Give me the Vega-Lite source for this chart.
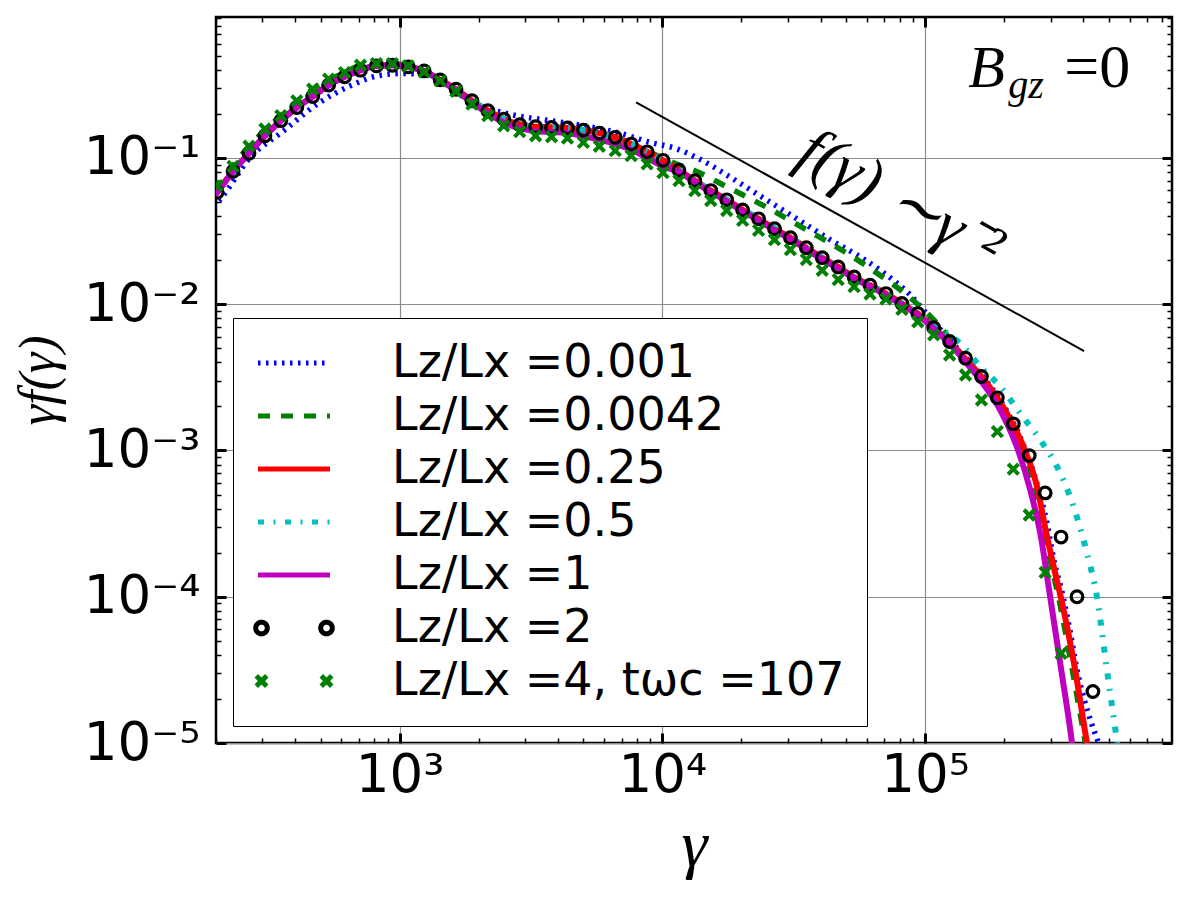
{
  "width": 956,
  "height": 726,
  "autosize": {"type": "none"},
  "padding": {"left": 216, "top": 17, "right": 28, "bottom": 157},
  "background": "white",
  "config": {
    "view": {"stroke": "black", "strokeWidth": 2.5},
    "axis": {"domain": false}
  },
  "datasets": {
    "pl": [
      {"gamma": 7943, "gf": 0.2399},
      {"gamma": 402700, "gf": 0.004786}
    ],
    "curves": [
      {"ratio": "0.001", "gamma": 195, "gf": 0.04677},
      {"ratio": "0.001", "gamma": 205.1, "gf": 0.05117},
      {"ratio": "0.001", "gamma": 270.4, "gf": 0.1012},
      {"ratio": "0.001", "gamma": 362.2, "gf": 0.1535},
      {"ratio": "0.001", "gamma": 485.3, "gf": 0.2333},
      {"ratio": "0.001", "gamma": 648.6, "gf": 0.3112},
      {"ratio": "0.001", "gamma": 820.4, "gf": 0.3639},
      {"ratio": "0.001", "gamma": 1007, "gf": 0.3776},
      {"ratio": "0.001", "gamma": 1233, "gf": 0.3741},
      {"ratio": "0.001", "gamma": 1514, "gf": 0.3199},
      {"ratio": "0.001", "gamma": 1803, "gf": 0.2523},
      {"ratio": "0.001", "gamma": 2213, "gf": 0.2158},
      {"ratio": "0.001", "gamma": 2793, "gf": 0.1945},
      {"ratio": "0.001", "gamma": 3741, "gf": 0.1799},
      {"ratio": "0.001", "gamma": 5012, "gf": 0.166},
      {"ratio": "0.001", "gamma": 6699, "gf": 0.1496},
      {"ratio": "0.001", "gamma": 8974, "gf": 0.1279},
      {"ratio": "0.001", "gamma": 11170, "gf": 0.1164},
      {"ratio": "0.001", "gamma": 13900, "gf": 0.09795},
      {"ratio": "0.001", "gamma": 17580, "gf": 0.07656},
      {"ratio": "0.001", "gamma": 22180, "gf": 0.05888},
      {"ratio": "0.001", "gamma": 28050, "gf": 0.04529},
      {"ratio": "0.001", "gamma": 35400, "gf": 0.03483},
      {"ratio": "0.001", "gamma": 44770, "gf": 0.02679},
      {"ratio": "0.001", "gamma": 56490, "gf": 0.02113},
      {"ratio": "0.001", "gamma": 68870, "gf": 0.0166},
      {"ratio": "0.001", "gamma": 86700, "gf": 0.01183},
      {"ratio": "0.001", "gamma": 107600, "gf": 0.007586},
      {"ratio": "0.001", "gamma": 140000, "gf": 0.004467},
      {"ratio": "0.001", "gamma": 171800, "gf": 0.002951},
      {"ratio": "0.001", "gamma": 204600, "gf": 0.001862},
      {"ratio": "0.001", "gamma": 236600, "gf": 0.001096},
      {"ratio": "0.001", "gamma": 266700, "gf": 0.0005888},
      {"ratio": "0.001", "gamma": 291100, "gf": 0.0003162},
      {"ratio": "0.001", "gamma": 309000, "gf": 0.0001778},
      {"ratio": "0.001", "gamma": 335000, "gf": 0.0001},
      {"ratio": "0.001", "gamma": 357300, "gf": 0.00005623},
      {"ratio": "0.001", "gamma": 378400, "gf": 0.00003162},
      {"ratio": "0.001", "gamma": 402700, "gf": 0.00001995},
      {"ratio": "0.001", "gamma": 425600, "gf": 0.00001436},
      {"ratio": "0.001", "gamma": 457100, "gf": 0.00001},
      {"ratio": "0.001", "gamma": 478600, "gf": 0.000007943},

      {"ratio": "0.0042", "gamma": 195, "gf": 0.05998},
      {"ratio": "0.0042", "gamma": 202.1, "gf": 0.06471},
      {"ratio": "0.0042", "gamma": 267.1, "gf": 0.1202},
      {"ratio": "0.0042", "gamma": 353.1, "gf": 0.1945},
      {"ratio": "0.0042", "gamma": 466.8, "gf": 0.2951},
      {"ratio": "0.0042", "gamma": 617.1, "gf": 0.3837},
      {"ratio": "0.0042", "gamma": 709.5, "gf": 0.4305},
      {"ratio": "0.0042", "gamma": 815.8, "gf": 0.4416},
      {"ratio": "0.0042", "gamma": 937.9, "gf": 0.4416},
      {"ratio": "0.0042", "gamma": 1078.2, "gf": 0.4266},
      {"ratio": "0.0042", "gamma": 1425.4, "gf": 0.342},
      {"ratio": "0.0042", "gamma": 1884.3, "gf": 0.246},
      {"ratio": "0.0042", "gamma": 2490.9, "gf": 0.1845},
      {"ratio": "0.0042", "gamma": 3292.8, "gf": 0.1637},
      {"ratio": "0.0042", "gamma": 4352.8, "gf": 0.1603},
      {"ratio": "0.0042", "gamma": 5754.1, "gf": 0.1479},
      {"ratio": "0.0042", "gamma": 7606.5, "gf": 0.1245},
      {"ratio": "0.0042", "gamma": 10000, "gf": 0.1},
      {"ratio": "0.0042", "gamma": 11970, "gf": 0.0873},
      {"ratio": "0.0042", "gamma": 13240, "gf": 0.08204},
      {"ratio": "0.0042", "gamma": 17220, "gf": 0.06471},
      {"ratio": "0.0042", "gamma": 25590, "gf": 0.04487},
      {"ratio": "0.0042", "gamma": 35650, "gf": 0.03199},
      {"ratio": "0.0042", "gamma": 49550, "gf": 0.02275},
      {"ratio": "0.0042", "gamma": 68870, "gf": 0.01535},
      {"ratio": "0.0042", "gamma": 83950, "gf": 0.01183},
      {"ratio": "0.0042", "gamma": 99080, "gf": 0.009099},
      {"ratio": "0.0042", "gamma": 112200, "gf": 0.007244},
      {"ratio": "0.0042", "gamma": 140000, "gf": 0.004365},
      {"ratio": "0.0042", "gamma": 171800, "gf": 0.002818},
      {"ratio": "0.0042", "gamma": 204600, "gf": 0.001738},
      {"ratio": "0.0042", "gamma": 236600, "gf": 0.001023},
      {"ratio": "0.0042", "gamma": 261800, "gf": 0.0005495},
      {"ratio": "0.0042", "gamma": 283800, "gf": 0.0002729},
      {"ratio": "0.0042", "gamma": 303400, "gf": 0.0001585},
      {"ratio": "0.0042", "gamma": 325100, "gf": 0.0000912},
      {"ratio": "0.0042", "gamma": 363100, "gf": 0.00003162},
      {"ratio": "0.0042", "gamma": 407400, "gf": 0.00001},
      {"ratio": "0.0042", "gamma": 418800, "gf": 0.000007586},

      {"ratio": "0.25", "gamma": 195, "gf": 0.0537},
      {"ratio": "0.25", "gamma": 202.1, "gf": 0.05834},
      {"ratio": "0.25", "gamma": 232.3, "gf": 0.0811},
      {"ratio": "0.25", "gamma": 267.1, "gf": 0.1076},
      {"ratio": "0.25", "gamma": 307.1, "gf": 0.1419},
      {"ratio": "0.25", "gamma": 353.1, "gf": 0.1799},
      {"ratio": "0.25", "gamma": 406, "gf": 0.2213},
      {"ratio": "0.25", "gamma": 466.8, "gf": 0.263},
      {"ratio": "0.25", "gamma": 536.7, "gf": 0.3148},
      {"ratio": "0.25", "gamma": 617.1, "gf": 0.3589},
      {"ratio": "0.25", "gamma": 709.5, "gf": 0.3981},
      {"ratio": "0.25", "gamma": 815.8, "gf": 0.4266},
      {"ratio": "0.25", "gamma": 937.9, "gf": 0.4305},
      {"ratio": "0.25", "gamma": 1078.2, "gf": 0.4198},
      {"ratio": "0.25", "gamma": 1239.8, "gf": 0.3936},
      {"ratio": "0.25", "gamma": 1425.4, "gf": 0.342},
      {"ratio": "0.25", "gamma": 1638.9, "gf": 0.2951},
      {"ratio": "0.25", "gamma": 1884.3, "gf": 0.246},
      {"ratio": "0.25", "gamma": 2166.5, "gf": 0.2104},
      {"ratio": "0.25", "gamma": 2490.9, "gf": 0.1845},
      {"ratio": "0.25", "gamma": 2864, "gf": 0.1687},
      {"ratio": "0.25", "gamma": 3292.8, "gf": 0.1637},
      {"ratio": "0.25", "gamma": 3785.9, "gf": 0.1618},
      {"ratio": "0.25", "gamma": 4352.8, "gf": 0.1603},
      {"ratio": "0.25", "gamma": 5004.7, "gf": 0.1552},
      {"ratio": "0.25", "gamma": 5754.1, "gf": 0.1479},
      {"ratio": "0.25", "gamma": 6615.8, "gf": 0.1384},
      {"ratio": "0.25", "gamma": 7606.5, "gf": 0.1245},
      {"ratio": "0.25", "gamma": 8745.6, "gf": 0.1102},
      {"ratio": "0.25", "gamma": 10055, "gf": 0.09638},
      {"ratio": "0.25", "gamma": 11561, "gf": 0.08241},
      {"ratio": "0.25", "gamma": 13292, "gf": 0.06998},
      {"ratio": "0.25", "gamma": 15283, "gf": 0.05984},
      {"ratio": "0.25", "gamma": 17571, "gf": 0.05176},
      {"ratio": "0.25", "gamma": 20203, "gf": 0.04416},
      {"ratio": "0.25", "gamma": 23228, "gf": 0.03837},
      {"ratio": "0.25", "gamma": 26707, "gf": 0.03281},
      {"ratio": "0.25", "gamma": 30706, "gf": 0.02851},
      {"ratio": "0.25", "gamma": 35304, "gf": 0.02432},
      {"ratio": "0.25", "gamma": 40591, "gf": 0.0208},
      {"ratio": "0.25", "gamma": 46669, "gf": 0.01799},
      {"ratio": "0.25", "gamma": 53658, "gf": 0.01535},
      {"ratio": "0.25", "gamma": 61693, "gf": 0.01349},
      {"ratio": "0.25", "gamma": 70931, "gf": 0.01183},
      {"ratio": "0.25", "gamma": 81553, "gf": 0.01012},
      {"ratio": "0.25", "gamma": 93765, "gf": 0.00863},
      {"ratio": "0.25", "gamma": 107770, "gf": 0.006918},
      {"ratio": "0.25", "gamma": 139960, "gf": 0.004375},
      {"ratio": "0.25", "gamma": 171790, "gf": 0.002877},
      {"ratio": "0.25", "gamma": 204640, "gf": 0.001795},
      {"ratio": "0.25", "gamma": 236590, "gf": 0.001062},
      {"ratio": "0.25", "gamma": 266690, "gf": 0.0005649},
      {"ratio": "0.25", "gamma": 289100, "gf": 0.0002729},
      {"ratio": "0.25", "gamma": 309000, "gf": 0.0001585},
      {"ratio": "0.25", "gamma": 331900, "gf": 0.0000912},
      {"ratio": "0.25", "gamma": 372400, "gf": 0.00003162},
      {"ratio": "0.25", "gamma": 413050, "gf": 0.00001},
      {"ratio": "0.25", "gamma": 424620, "gf": 0.000007586},

      {"ratio": "0.5", "gamma": 195, "gf": 0.0537},
      {"ratio": "0.5", "gamma": 202.1, "gf": 0.05834},
      {"ratio": "0.5", "gamma": 267.1, "gf": 0.1076},
      {"ratio": "0.5", "gamma": 353.1, "gf": 0.1799},
      {"ratio": "0.5", "gamma": 466.8, "gf": 0.263},
      {"ratio": "0.5", "gamma": 617.1, "gf": 0.3589},
      {"ratio": "0.5", "gamma": 815.8, "gf": 0.4266},
      {"ratio": "0.5", "gamma": 937.9, "gf": 0.4305},
      {"ratio": "0.5", "gamma": 1078.2, "gf": 0.4198},
      {"ratio": "0.5", "gamma": 1425.4, "gf": 0.342},
      {"ratio": "0.5", "gamma": 1884.3, "gf": 0.246},
      {"ratio": "0.5", "gamma": 2490.9, "gf": 0.1845},
      {"ratio": "0.5", "gamma": 3292.8, "gf": 0.1637},
      {"ratio": "0.5", "gamma": 4352.8, "gf": 0.1603},
      {"ratio": "0.5", "gamma": 5754.1, "gf": 0.1479},
      {"ratio": "0.5", "gamma": 7606.5, "gf": 0.1245},
      {"ratio": "0.5", "gamma": 10055, "gf": 0.09638},
      {"ratio": "0.5", "gamma": 13292, "gf": 0.06998},
      {"ratio": "0.5", "gamma": 17571, "gf": 0.05176},
      {"ratio": "0.5", "gamma": 23228, "gf": 0.03837},
      {"ratio": "0.5", "gamma": 30706, "gf": 0.02851},
      {"ratio": "0.5", "gamma": 40591, "gf": 0.0208},
      {"ratio": "0.5", "gamma": 53658, "gf": 0.01535},
      {"ratio": "0.5", "gamma": 70931, "gf": 0.01183},
      {"ratio": "0.5", "gamma": 93765, "gf": 0.00863},
      {"ratio": "0.5", "gamma": 107600, "gf": 0.007244},
      {"ratio": "0.5", "gamma": 123900, "gf": 0.006166},
      {"ratio": "0.5", "gamma": 135800, "gf": 0.005408},
      {"ratio": "0.5", "gamma": 162200, "gf": 0.003741},
      {"ratio": "0.5", "gamma": 193200, "gf": 0.002729},
      {"ratio": "0.5", "gamma": 230100, "gf": 0.001795},
      {"ratio": "0.5", "gamma": 274200, "gf": 0.00118},
      {"ratio": "0.5", "gamma": 317700, "gf": 0.0007745},
      {"ratio": "0.5", "gamma": 367300, "gf": 0.000413},
      {"ratio": "0.5", "gamma": 413000, "gf": 0.0001982},
      {"ratio": "0.5", "gamma": 450800, "gf": 0.00009954},
      {"ratio": "0.5", "gamma": 492000, "gf": 0.00003162},
      {"ratio": "0.5", "gamma": 538300, "gf": 0.00001},
      {"ratio": "0.5", "gamma": 549500, "gf": 0.000007586},

      {"ratio": "1", "gamma": 195, "gf": 0.0537},
      {"ratio": "1", "gamma": 202.1, "gf": 0.05834},
      {"ratio": "1", "gamma": 232.3, "gf": 0.0811},
      {"ratio": "1", "gamma": 267.1, "gf": 0.1076},
      {"ratio": "1", "gamma": 307.1, "gf": 0.1419},
      {"ratio": "1", "gamma": 353.1, "gf": 0.1799},
      {"ratio": "1", "gamma": 406, "gf": 0.2213},
      {"ratio": "1", "gamma": 466.8, "gf": 0.263},
      {"ratio": "1", "gamma": 536.7, "gf": 0.3148},
      {"ratio": "1", "gamma": 617.1, "gf": 0.3589},
      {"ratio": "1", "gamma": 709.5, "gf": 0.3981},
      {"ratio": "1", "gamma": 815.8, "gf": 0.4266},
      {"ratio": "1", "gamma": 937.9, "gf": 0.4305},
      {"ratio": "1", "gamma": 1078.2, "gf": 0.4198},
      {"ratio": "1", "gamma": 1239.8, "gf": 0.3936},
      {"ratio": "1", "gamma": 1425.4, "gf": 0.3388},
      {"ratio": "1", "gamma": 1638.9, "gf": 0.2901},
      {"ratio": "1", "gamma": 1884.3, "gf": 0.2395},
      {"ratio": "1", "gamma": 2166.5, "gf": 0.2023},
      {"ratio": "1", "gamma": 2490.9, "gf": 0.175},
      {"ratio": "1", "gamma": 2864, "gf": 0.1598},
      {"ratio": "1", "gamma": 3292.8, "gf": 0.1524},
      {"ratio": "1", "gamma": 3785.9, "gf": 0.1503},
      {"ratio": "1", "gamma": 4352.8, "gf": 0.1481},
      {"ratio": "1", "gamma": 5004.7, "gf": 0.1409},
      {"ratio": "1", "gamma": 5754.1, "gf": 0.1334},
      {"ratio": "1", "gamma": 6615.8, "gf": 0.1246},
      {"ratio": "1", "gamma": 7606.5, "gf": 0.1136},
      {"ratio": "1", "gamma": 8745.6, "gf": 0.1001},
      {"ratio": "1", "gamma": 10055, "gf": 0.0875},
      {"ratio": "1", "gamma": 11561, "gf": 0.08053},
      {"ratio": "1", "gamma": 13292, "gf": 0.06839},
      {"ratio": "1", "gamma": 15283, "gf": 0.05848},
      {"ratio": "1", "gamma": 17571, "gf": 0.05058},
      {"ratio": "1", "gamma": 20203, "gf": 0.04315},
      {"ratio": "1", "gamma": 23228, "gf": 0.0375},
      {"ratio": "1", "gamma": 26707, "gf": 0.03206},
      {"ratio": "1", "gamma": 30706, "gf": 0.02786},
      {"ratio": "1", "gamma": 35304, "gf": 0.02377},
      {"ratio": "1", "gamma": 40591, "gf": 0.02033},
      {"ratio": "1", "gamma": 46669, "gf": 0.01758},
      {"ratio": "1", "gamma": 53658, "gf": 0.015},
      {"ratio": "1", "gamma": 61693, "gf": 0.01318},
      {"ratio": "1", "gamma": 70931, "gf": 0.01156},
      {"ratio": "1", "gamma": 81553, "gf": 0.009889},
      {"ratio": "1", "gamma": 93765, "gf": 0.008433},
      {"ratio": "1", "gamma": 107770, "gf": 0.006839},
      {"ratio": "1", "gamma": 123900, "gf": 0.00537},
      {"ratio": "1", "gamma": 141900, "gf": 0.004074},
      {"ratio": "1", "gamma": 162200, "gf": 0.003034},
      {"ratio": "1", "gamma": 193200, "gf": 0.001892},
      {"ratio": "1", "gamma": 223400, "gf": 0.001062},
      {"ratio": "1", "gamma": 251200, "gf": 0.000537},
      {"ratio": "1", "gamma": 274200, "gf": 0.0002716},
      {"ratio": "1", "gamma": 299200, "gf": 0.00009954},
      {"ratio": "1", "gamma": 329600, "gf": 0.00003155},
      {"ratio": "1", "gamma": 362200, "gf": 0.00001},
      {"ratio": "1", "gamma": 369000, "gf": 0.000007586},

      {"ratio": "2", "gamma": 202.1, "gf": 0.05834},
      {"ratio": "2", "gamma": 232.3, "gf": 0.0811},
      {"ratio": "2", "gamma": 267.1, "gf": 0.1076},
      {"ratio": "2", "gamma": 307.1, "gf": 0.1419},
      {"ratio": "2", "gamma": 353.1, "gf": 0.1799},
      {"ratio": "2", "gamma": 406, "gf": 0.2213},
      {"ratio": "2", "gamma": 466.8, "gf": 0.263},
      {"ratio": "2", "gamma": 536.7, "gf": 0.3148},
      {"ratio": "2", "gamma": 617.1, "gf": 0.3589},
      {"ratio": "2", "gamma": 709.5, "gf": 0.3981},
      {"ratio": "2", "gamma": 815.8, "gf": 0.4266},
      {"ratio": "2", "gamma": 937.9, "gf": 0.4305},
      {"ratio": "2", "gamma": 1078.2, "gf": 0.4198},
      {"ratio": "2", "gamma": 1239.8, "gf": 0.3936},
      {"ratio": "2", "gamma": 1425.4, "gf": 0.342},
      {"ratio": "2", "gamma": 1638.9, "gf": 0.2951},
      {"ratio": "2", "gamma": 1884.3, "gf": 0.246},
      {"ratio": "2", "gamma": 2166.5, "gf": 0.2104},
      {"ratio": "2", "gamma": 2490.9, "gf": 0.1845},
      {"ratio": "2", "gamma": 2864, "gf": 0.1687},
      {"ratio": "2", "gamma": 3292.8, "gf": 0.1637},
      {"ratio": "2", "gamma": 3785.9, "gf": 0.1618},
      {"ratio": "2", "gamma": 4352.8, "gf": 0.1603},
      {"ratio": "2", "gamma": 5004.7, "gf": 0.1552},
      {"ratio": "2", "gamma": 5754.1, "gf": 0.1479},
      {"ratio": "2", "gamma": 6615.8, "gf": 0.1384},
      {"ratio": "2", "gamma": 7606.5, "gf": 0.1245},
      {"ratio": "2", "gamma": 8745.6, "gf": 0.1102},
      {"ratio": "2", "gamma": 10055, "gf": 0.09638},
      {"ratio": "2", "gamma": 11561, "gf": 0.08241},
      {"ratio": "2", "gamma": 13292, "gf": 0.06998},
      {"ratio": "2", "gamma": 15283, "gf": 0.05984},
      {"ratio": "2", "gamma": 17571, "gf": 0.05176},
      {"ratio": "2", "gamma": 20203, "gf": 0.04416},
      {"ratio": "2", "gamma": 23228, "gf": 0.03837},
      {"ratio": "2", "gamma": 26707, "gf": 0.03281},
      {"ratio": "2", "gamma": 30706, "gf": 0.02851},
      {"ratio": "2", "gamma": 35304, "gf": 0.02432},
      {"ratio": "2", "gamma": 40591, "gf": 0.0208},
      {"ratio": "2", "gamma": 46669, "gf": 0.01799},
      {"ratio": "2", "gamma": 53658, "gf": 0.01535},
      {"ratio": "2", "gamma": 61693, "gf": 0.01349},
      {"ratio": "2", "gamma": 70931, "gf": 0.01183},
      {"ratio": "2", "gamma": 81553, "gf": 0.01012},
      {"ratio": "2", "gamma": 93765, "gf": 0.00863},
      {"ratio": "2", "gamma": 107770, "gf": 0.006918},
      {"ratio": "2", "gamma": 123900, "gf": 0.005559},
      {"ratio": "2", "gamma": 142500, "gf": 0.004276},
      {"ratio": "2", "gamma": 163800, "gf": 0.003206},
      {"ratio": "2", "gamma": 188300, "gf": 0.002291},
      {"ratio": "2", "gamma": 216600, "gf": 0.001521},
      {"ratio": "2", "gamma": 249000, "gf": 0.0009226},
      {"ratio": "2", "gamma": 286300, "gf": 0.0005129},
      {"ratio": "2", "gamma": 329100, "gf": 0.0002559},
      {"ratio": "2", "gamma": 378400, "gf": 0.0001},
      {"ratio": "2", "gamma": 435000, "gf": 0.00002249},

      {"ratio": "4", "gamma": 202.1, "gf": 0.06471},
      {"ratio": "4", "gamma": 232.3, "gf": 0.0877},
      {"ratio": "4", "gamma": 267.1, "gf": 0.1202},
      {"ratio": "4", "gamma": 307.1, "gf": 0.1578},
      {"ratio": "4", "gamma": 353.1, "gf": 0.1945},
      {"ratio": "4", "gamma": 406, "gf": 0.246},
      {"ratio": "4", "gamma": 466.8, "gf": 0.2951},
      {"ratio": "4", "gamma": 536.7, "gf": 0.3459},
      {"ratio": "4", "gamma": 617.1, "gf": 0.3837},
      {"ratio": "4", "gamma": 709.5, "gf": 0.4305},
      {"ratio": "4", "gamma": 815.8, "gf": 0.4416},
      {"ratio": "4", "gamma": 937.9, "gf": 0.4416},
      {"ratio": "4", "gamma": 1078.2, "gf": 0.4266},
      {"ratio": "4", "gamma": 1239.8, "gf": 0.3882},
      {"ratio": "4", "gamma": 1425.4, "gf": 0.3365},
      {"ratio": "4", "gamma": 1638.9, "gf": 0.2851},
      {"ratio": "4", "gamma": 1884.3, "gf": 0.2333},
      {"ratio": "4", "gamma": 2166.5, "gf": 0.1945},
      {"ratio": "4", "gamma": 2490.9, "gf": 0.166},
      {"ratio": "4", "gamma": 2864, "gf": 0.1514},
      {"ratio": "4", "gamma": 3292.8, "gf": 0.1419},
      {"ratio": "4", "gamma": 3785.9, "gf": 0.1396},
      {"ratio": "4", "gamma": 4352.8, "gf": 0.1368},
      {"ratio": "4", "gamma": 5004.7, "gf": 0.1279},
      {"ratio": "4", "gamma": 5754.1, "gf": 0.1202},
      {"ratio": "4", "gamma": 6615.8, "gf": 0.1122},
      {"ratio": "4", "gamma": 7606.5, "gf": 0.1038},
      {"ratio": "4", "gamma": 8745.6, "gf": 0.09099},
      {"ratio": "4", "gamma": 10055, "gf": 0.07943},
      {"ratio": "4", "gamma": 11561, "gf": 0.06998},
      {"ratio": "4", "gamma": 13292, "gf": 0.05984},
      {"ratio": "4", "gamma": 15283, "gf": 0.05117},
      {"ratio": "4", "gamma": 17571, "gf": 0.04375},
      {"ratio": "4", "gamma": 20203, "gf": 0.03741},
      {"ratio": "4", "gamma": 23228, "gf": 0.03199},
      {"ratio": "4", "gamma": 26707, "gf": 0.02761},
      {"ratio": "4", "gamma": 30706, "gf": 0.0236},
      {"ratio": "4", "gamma": 35304, "gf": 0.02018},
      {"ratio": "4", "gamma": 40591, "gf": 0.01706},
      {"ratio": "4", "gamma": 46669, "gf": 0.01472},
      {"ratio": "4", "gamma": 53658, "gf": 0.01318},
      {"ratio": "4", "gamma": 61693, "gf": 0.01175},
      {"ratio": "4", "gamma": 70931, "gf": 0.01084},
      {"ratio": "4", "gamma": 81553, "gf": 0.009226},
      {"ratio": "4", "gamma": 93765, "gf": 0.007586},
      {"ratio": "4", "gamma": 107770, "gf": 0.006166},
      {"ratio": "4", "gamma": 123900, "gf": 0.004498},
      {"ratio": "4", "gamma": 142500, "gf": 0.003281},
      {"ratio": "4", "gamma": 163800, "gf": 0.002213},
      {"ratio": "4", "gamma": 188300, "gf": 0.001346},
      {"ratio": "4", "gamma": 216600, "gf": 0.0007447},
      {"ratio": "4", "gamma": 249000, "gf": 0.0003622},
      {"ratio": "4", "gamma": 286300, "gf": 0.0001469},
      {"ratio": "4", "gamma": 329100, "gf": 0.00004102}
    ]
  },
  "layer": [
    {
      "data": {"name": "curves"},
      "transform": [{"filter": {"field": "ratio", "equal": "0.001"}}],
      "mark": {"type": "line", "clip": true, "color": "#0000ff", "strokeWidth": 5.5, "strokeDash": [2.5, 5.5], "interpolate": "monotone"},
      "encoding": {
        "x": {
          "field": "gamma", "type": "quantitative",
          "scale": {"type": "log", "domain": [200, 870000], "nice": false},
          "axis": {
            "orient": "bottom",
            "values": [200,300,400,500,600,700,800,900,1000,2000,3000,4000,5000,6000,7000,8000,9000,10000,20000,30000,40000,50000,60000,70000,80000,90000,100000,200000,300000,400000,500000,600000,700000,800000],
            "labelExpr": "datum.value == 1000 ? '10³' : datum.value == 10000 ? '10⁴' : datum.value == 100000 ? '10⁵' : ''",
            "labelFont": "DejaVu Sans", "labelFontSize": 53, "labelColor": "black",
            "labelPadding": 16, "labelOverlap": false, "labelFlush": false, "labelBound": false,
            "tickColor": "black",
            "tickSize": {"condition": {"test": "datum.value == 1000 || datum.value == 10000 || datum.value == 100000", "value": -10}, "value": -5},
            "tickWidth": {"condition": {"test": "datum.value == 1000 || datum.value == 10000 || datum.value == 100000", "value": 3}, "value": 1.5},
            "grid": true, "gridColor": "#8c8c8c", "gridWidth": 1.2,
            "gridOpacity": {"condition": {"test": "datum.value == 1000 || datum.value == 10000 || datum.value == 100000", "value": 1}, "value": 0},
            "title": "γ", "titleFont": "Liberation Serif", "titleFontStyle": "italic", "titleFontWeight": "normal",
            "titleFontSize": 66, "titleColor": "black", "titlePadding": 6
          }
        },
        "y": {
          "field": "gf", "type": "quantitative",
          "scale": {"type": "log", "domain": [0.00001, 0.92], "nice": false},
          "axis": {
            "orient": "left",
            "values": [0.00001,0.00002,0.00003,0.00004,0.00005,0.00006,0.00007,0.00008,0.00009,0.0001,0.0002,0.0003,0.0004,0.0005,0.0006,0.0007,0.0008,0.0009,0.001,0.002,0.003,0.004,0.005,0.006,0.007,0.008,0.009,0.01,0.02,0.03,0.04,0.05,0.06,0.07,0.08,0.09,0.1,0.2,0.3,0.4,0.5,0.6,0.7,0.8,0.9],
            "labelExpr": "datum.value == 0.1 ? '10⁻¹' : datum.value == 0.01 ? '10⁻²' : datum.value == 0.001 ? '10⁻³' : datum.value == 0.0001 ? '10⁻⁴' : datum.value == 0.00001 ? '10⁻⁵' : ''",
            "labelFont": "DejaVu Sans", "labelFontSize": 53, "labelColor": "black",
            "labelPadding": 26, "labelOverlap": false, "labelFlush": false, "labelBound": false,
            "tickColor": "black",
            "tickSize": {"condition": {"test": "datum.value == 0.1 || datum.value == 0.01 || datum.value == 0.001 || datum.value == 0.0001 || datum.value == 0.00001", "value": -10}, "value": -5},
            "tickWidth": {"condition": {"test": "datum.value == 0.1 || datum.value == 0.01 || datum.value == 0.001 || datum.value == 0.0001 || datum.value == 0.00001", "value": 3}, "value": 1.5},
            "grid": true, "gridColor": "#8c8c8c", "gridWidth": 1.2,
            "gridOpacity": {"condition": {"test": "datum.value == 0.1 || datum.value == 0.01 || datum.value == 0.001 || datum.value == 0.0001 || datum.value == 0.00001", "value": 1}, "value": 0},
            "title": "γf(γ)", "titleFont": "Liberation Serif", "titleFontStyle": "italic", "titleFontWeight": "normal",
            "titleFontSize": 52, "titleColor": "black", "titlePadding": 18
          }
        }
      }
    },
    {
      "data": {"name": "curves"},
      "transform": [{"filter": {"field": "ratio", "equal": "0.0042"}}],
      "mark": {"type": "line", "clip": true, "color": "#008000", "strokeWidth": 5.5, "strokeDash": [12, 11], "interpolate": "monotone"},
      "encoding": {
        "x": {"field": "gamma", "type": "quantitative", "axis": null},
        "y": {"field": "gf", "type": "quantitative", "axis": null}
      }
    },
    {
      "data": {"name": "curves"},
      "transform": [{"filter": {"field": "ratio", "equal": "0.25"}}],
      "mark": {"type": "line", "clip": true, "color": "#ff0000", "strokeWidth": 6, "interpolate": "monotone"},
      "encoding": {
        "x": {"field": "gamma", "type": "quantitative", "axis": null},
        "y": {"field": "gf", "type": "quantitative", "axis": null}
      }
    },
    {
      "data": {"name": "curves"},
      "transform": [{"filter": {"field": "ratio", "equal": "0.5"}}],
      "mark": {"type": "line", "clip": true, "color": "#00bfbf", "strokeWidth": 6, "strokeDash": [6, 9.5, 2, 9.5], "interpolate": "monotone"},
      "encoding": {
        "x": {"field": "gamma", "type": "quantitative", "axis": null},
        "y": {"field": "gf", "type": "quantitative", "axis": null}
      }
    },
    {
      "data": {"name": "curves"},
      "transform": [{"filter": {"field": "ratio", "equal": "1"}}],
      "mark": {"type": "line", "clip": true, "color": "#bf00bf", "strokeWidth": 6, "interpolate": "monotone"},
      "encoding": {
        "x": {"field": "gamma", "type": "quantitative", "axis": null},
        "y": {"field": "gf", "type": "quantitative", "axis": null}
      }
    },
    {
      "data": {"name": "curves"},
      "transform": [{"filter": {"field": "ratio", "equal": "2"}}],
      "mark": {"type": "point", "shape": "circle", "filled": false, "color": "black", "strokeWidth": 3.2, "size": 135, "opacity": 1, "clip": true},
      "encoding": {
        "x": {"field": "gamma", "type": "quantitative", "axis": null},
        "y": {"field": "gf", "type": "quantitative", "axis": null}
      }
    },
    {
      "data": {"name": "curves"},
      "transform": [{"filter": {"field": "ratio", "equal": "4"}}],
      "mark": {"type": "point", "shape": "M-1,-1L1,1M-1,1L1,-1", "filled": false, "color": "#008000", "strokeWidth": 4, "size": 110, "opacity": 1, "clip": true},
      "encoding": {
        "x": {"field": "gamma", "type": "quantitative", "axis": null},
        "y": {"field": "gf", "type": "quantitative", "axis": null}
      }
    },
    {
      "data": {"name": "curves"},
      "mark": {"type": "point", "filled": false, "opacity": 0, "strokeWidth": 5, "clip": true},
      "encoding": {
        "x": {"field": "gamma", "type": "quantitative", "axis": null},
        "y": {"field": "gf", "type": "quantitative", "axis": null},
        "color": {
          "field": "ratio", "type": "nominal",
          "scale": {"domain": ["0.001", "0.0042", "0.25", "0.5", "1", "2", "4"], "range": ["#0000ff", "#008000", "#ff0000", "#00bfbf", "#bf00bf", "#000000", "#008000"]},
          "legend": {"title": null, "orient": "none", "legendX": 17, "legendY": 301, "labelExpr": "datum.value == '4' ? 'Lz/Lx =4, tωc =107' : 'Lz/Lx =' + datum.value", "labelFont": "DejaVu Sans", "labelFontSize": 46, "labelColor": "black", "labelLimit": 900, "labelOffset": 91, "symbolSize": 1600, "symbolStrokeWidth": 5, "symbolOpacity": 1, "padding": 22, "rowPadding": 7, "strokeColor": "black", "fillColor": "white", "cornerRadius": 0}
        },
        "shape": {
          "field": "ratio", "type": "nominal",
          "scale": {"domain": ["0.001", "0.0042", "0.25", "0.5", "1", "2", "4"], "range": ["M-1,0L2.6,0", "M-1,0L2.6,0", "M-1,0L2.6,0", "M-1,0L2.6,0", "M-1,0L2.6,0", "M-1.115,0A0.29,0.29,0,1,1,-0.535,0A0.29,0.29,0,1,1,-1.115,0ZM2.135,0A0.29,0.29,0,1,1,2.715,0A0.29,0.29,0,1,1,2.135,0Z", "M-1.085,-0.26L-0.565,0.26M-1.085,0.26L-0.565,-0.26M2.165,-0.26L2.685,0.26M2.165,0.26L2.685,-0.26"]},
          "legend": {"title": null, "orient": "none", "legendX": 17, "legendY": 301, "labelExpr": "datum.value == '4' ? 'Lz/Lx =4, tωc =107' : 'Lz/Lx =' + datum.value", "labelFont": "DejaVu Sans", "labelFontSize": 46, "labelColor": "black", "labelLimit": 900, "labelOffset": 91, "symbolSize": 1600, "symbolStrokeWidth": 5, "symbolOpacity": 1, "padding": 22, "rowPadding": 7, "strokeColor": "black", "fillColor": "white", "cornerRadius": 0}
        },
        "strokeDash": {
          "field": "ratio", "type": "nominal",
          "scale": {"domain": ["0.001", "0.0042", "0.25", "0.5", "1", "2", "4"], "range": [[2.5, 5.5], [12, 11], [1, 0], [6, 9.5, 2, 9.5], [1, 0], [1, 0], [1, 0]]},
          "legend": {"title": null, "orient": "none", "legendX": 17, "legendY": 301, "labelExpr": "datum.value == '4' ? 'Lz/Lx =4, tωc =107' : 'Lz/Lx =' + datum.value", "labelFont": "DejaVu Sans", "labelFontSize": 46, "labelColor": "black", "labelLimit": 900, "labelOffset": 91, "symbolSize": 1600, "symbolStrokeWidth": 5, "symbolOpacity": 1, "padding": 22, "rowPadding": 7, "strokeColor": "black", "fillColor": "white", "cornerRadius": 0}
        }
      }
    },
    {
      "data": {"name": "pl"},
      "mark": {"type": "line", "color": "black", "strokeWidth": 2},
      "encoding": {
        "x": {
          "field": "gamma", "type": "quantitative",
          "axis": {
            "orient": "top", "title": null, "labels": false, "grid": false,
            "values": [200,300,400,500,600,700,800,900,1000,2000,3000,4000,5000,6000,7000,8000,9000,10000,20000,30000,40000,50000,60000,70000,80000,90000,100000,200000,300000,400000,500000,600000,700000,800000],
            "tickColor": "black",
            "tickSize": {"condition": {"test": "datum.value == 1000 || datum.value == 10000 || datum.value == 100000", "value": -10}, "value": -5},
            "tickWidth": {"condition": {"test": "datum.value == 1000 || datum.value == 10000 || datum.value == 100000", "value": 3}, "value": 1.5}
          }
        },
        "y": {
          "field": "gf", "type": "quantitative",
          "axis": {
            "orient": "right", "title": null, "labels": false, "grid": false,
            "values": [0.00001,0.00002,0.00003,0.00004,0.00005,0.00006,0.00007,0.00008,0.00009,0.0001,0.0002,0.0003,0.0004,0.0005,0.0006,0.0007,0.0008,0.0009,0.001,0.002,0.003,0.004,0.005,0.006,0.007,0.008,0.009,0.01,0.02,0.03,0.04,0.05,0.06,0.07,0.08,0.09,0.1,0.2,0.3,0.4,0.5,0.6,0.7,0.8,0.9],
            "tickColor": "black",
            "tickSize": {"condition": {"test": "datum.value == 0.1 || datum.value == 0.01 || datum.value == 0.001 || datum.value == 0.0001 || datum.value == 0.00001", "value": -10}, "value": -5},
            "tickWidth": {"condition": {"test": "datum.value == 0.1 || datum.value == 0.01 || datum.value == 0.001 || datum.value == 0.0001 || datum.value == 0.00001", "value": 3}, "value": 1.5}
          }
        }
      }
    },
    {
      "data": {"values": [{}]},
      "mark": {"type": "text", "text": "f(γ) ∼γ⁻²", "angle": 29, "font": "Liberation Serif", "fontStyle": "italic", "fontSize": 64, "align": "center", "baseline": "middle", "color": "black"},
      "encoding": {
        "x": {"datum": 80350, "type": "quantitative", "axis": null},
        "y": {"datum": 0.05164, "type": "quantitative", "axis": null}
      }
    },
    {
      "data": {"values": [{}]},
      "mark": {"type": "text", "text": "B", "font": "Liberation Serif", "fontStyle": "italic", "fontSize": 60, "align": "left", "baseline": "alphabetic", "color": "black"},
      "encoding": {
        "x": {"datum": 145800, "type": "quantitative", "axis": null},
        "y": {"datum": 0.3059, "type": "quantitative", "axis": null}
      }
    },
    {
      "data": {"values": [{}]},
      "mark": {"type": "text", "text": "gz", "font": "Liberation Serif", "fontStyle": "italic", "fontSize": 40, "align": "left", "baseline": "alphabetic", "dx": 40, "dy": 11, "color": "black"},
      "encoding": {
        "x": {"datum": 145800, "type": "quantitative", "axis": null},
        "y": {"datum": 0.3059, "type": "quantitative", "axis": null}
      }
    },
    {
      "data": {"values": [{}]},
      "mark": {"type": "text", "text": "=0", "font": "Liberation Serif", "fontSize": 62, "align": "left", "baseline": "alphabetic", "dx": 96, "color": "black"},
      "encoding": {
        "x": {"datum": 145800, "type": "quantitative", "axis": null},
        "y": {"datum": 0.3059, "type": "quantitative", "axis": null}
      }
    }
  ],
  "resolve": {"axis": {"x": "independent", "y": "independent"}}
}
